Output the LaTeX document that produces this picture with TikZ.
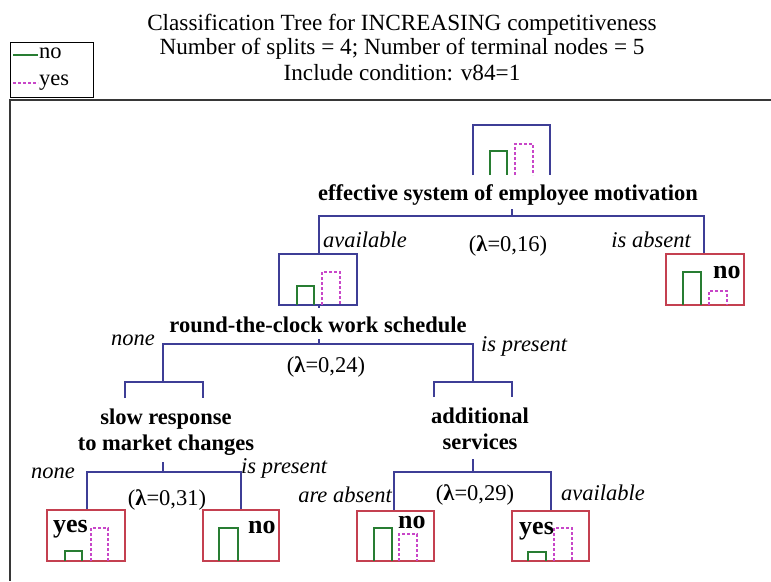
\documentclass[tikz,border=0pt]{standalone}
\usepackage{fontspec}
\setmainfont{Liberation Serif}
\definecolor{nodeblue}{RGB}{62,62,150}
\definecolor{termred}{RGB}{196,64,80}
\definecolor{bargreen}{RGB}{40,125,50}
\definecolor{barpink}{RGB}{200,70,200}
\definecolor{framegray}{RGB}{55,55,55}
\begin{document}
\begin{tikzpicture}[x=1pt,y=-1pt,
  nodebox/.style={draw=nodeblue,line width=1.2pt},
  termbox/.style={draw=termred,line width=1.2pt},
  conn/.style={draw=nodeblue,line width=1.2pt},
  gbar/.style={draw=bargreen,line width=1.1pt},
  pbar/.style={draw=barpink,line width=1.1pt,dash pattern=on 3pt off 2pt},
  frameline/.style={draw=framegray,line width=2pt},
  legbox/.style={draw=black,line width=1pt},
  splitlab/.style={font=\fontsize{22.5}{26}\selectfont\bfseries,align=center,inner sep=0pt},
  branchlab/.style={font=\fontsize{22.5}{26}\selectfont\itshape,inner sep=0pt},
  lamlab/.style={font=\fontsize{22.5}{26}\selectfont,inner sep=0pt},
  termlab/.style={font=\fontsize{26}{28}\selectfont\bfseries,inner sep=0pt},
  titlelab/.style={font=\fontsize{23.2}{26}\selectfont,inner sep=0pt},
  leglab/.style={font=\fontsize{22.5}{24}\selectfont,inner sep=0pt}]
\useasboundingbox (0,0) rectangle (771,581);

% title
\node[titlelab,anchor=base] (title1) at (402,30) {Classification Tree for INCREASING competitiveness};
\node[titlelab,anchor=base] (title2) at (402,54) {Number of splits = 4; Number of terminal nodes = 5};
\node[titlelab,anchor=base] (title3) at (402,80) {Include condition: v84=1};

% legend
\draw[legbox] (10,42) rectangle (93,97);
\coordinate (lg1) at (13,55); \coordinate (lg2) at (38,55);
\coordinate (lp1) at (13,83); \coordinate (lp2) at (38,83);
\draw[gbar] (lg1) -- (lg2);
\draw[pbar] (lp1) -- (lp2);
\node[leglab,anchor=base west] (legno) at (39,58) {no};
\node[leglab,anchor=base west] (legyes) at (39,85) {yes};

% frame
\draw[frameline] (771,100) -- (10,100) -- (10,581);

% root node
\draw[nodebox] (473,175) |- (550,125) -- (550,175);
\draw[gbar] (490,175) |- (507,151) -- (507,175);
\draw[pbar] (515,175) |- (533,144) -- (533,175);
\node[splitlab,anchor=base] (rootlab) at (508,200) {effective system of employee motivation};
\coordinate (tick1) at (512,209);
\coordinate (s1) at (512,216);
\coordinate (n2) at (319,254);
\coordinate (t1) at (704,254);
\draw[conn] (tick1) -- (s1);
\draw[conn] (n2) |- (s1) -| (t1);
\node[branchlab,anchor=base west] (b1l) at (323,247) {available};
\node[branchlab,anchor=base east] (b1r) at (691,247) {is absent};
\node[lamlab,anchor=base] (lam1) at (508,251.5) {(\textbf{λ}=0,16)};

% node 2
\draw[nodebox] (279,254) rectangle (357,305);
\draw[gbar] (297,305) |- (314,286) -- (314,305);
\draw[pbar] (322,305) |- (340,272) -- (340,305);
\draw[conn] (319,305) -- (319,308);
\node[splitlab,anchor=base] (n2lab) at (318,332) {round-the-clock work schedule};
\coordinate (tick2) at (319,339);
\coordinate (s2) at (319,344);
\coordinate (n3) at (163,382);
\coordinate (n4) at (473,382);
\draw[conn] (tick2) -- (s2);
\draw[conn] (n3) |- (s2) -| (n4);
\node[branchlab,anchor=base east] (b2l) at (155,345) {none};
\node[branchlab,anchor=base west] (b2r) at (481,351) {is present};
\node[lamlab,anchor=base] (lam2) at (326,372.5) {(\textbf{λ}=0,24)};

% terminal 1
\draw[termbox] (666,254) rectangle (744,305);
\draw[gbar] (683,305) |- (701,272) -- (701,305);
\draw[pbar] (709,305) |- (727,291) -- (727,305);
\node[termlab,anchor=base west] (t1lab) at (713,278) {no};

% node 3
\draw[nodebox] (125,398) |- (203,382) -- (203,398);
\node[splitlab,anchor=center] (n3lab) at (166,432) {slow response\\to market changes};
\coordinate (tick3) at (163,462);
\coordinate (s3) at (163,472);
\coordinate (t2) at (87,510);
\coordinate (t3) at (241,510);
\draw[conn] (tick3) -- (s3);
\draw[conn] (t2) |- (s3) -| (t3);
\node[branchlab,anchor=base east] (b3l) at (75,478) {none};
\node[branchlab,anchor=base west] (b3r) at (241,473) {is present};
\node[lamlab,anchor=base] (lam3) at (167,505.5) {(\textbf{λ}=0,31)};

% node 4
\draw[nodebox] (434,397) |- (512,382) -- (512,397);
\node[splitlab,anchor=center] (n4lab) at (480,429) {additional\\services};
\coordinate (tick4) at (473,459);
\coordinate (s4) at (473,472);
\coordinate (t4) at (394,511);
\coordinate (t5) at (551,511);
\draw[conn] (tick4) -- (s4);
\draw[conn] (t4) |- (s4) -| (t5);
\node[branchlab,anchor=base east] (b4l) at (392,502) {are absent};
\node[branchlab,anchor=base west] (b4r) at (561,500) {available};
\node[lamlab,anchor=base] (lam4) at (475,500.5) {(\textbf{λ}=0,29)};

% terminal 2
\draw[termbox] (47,510) rectangle (125,561);
\draw[gbar] (65,561) |- (82,551) -- (82,561);
\draw[pbar] (91,561) |- (108,528) -- (108,561);
\node[termlab,anchor=base west] (t2lab) at (53,532) {yes};

% terminal 3
\draw[termbox] (203,510) rectangle (279,561);
\draw[gbar] (219,561) |- (238,528) -- (238,561);
\node[termlab,anchor=base west] (t3lab) at (248,533) {no};

% terminal 4
\draw[termbox] (357,511) rectangle (434,561);
\draw[gbar] (374,561) |- (392,528) -- (392,561);
\draw[pbar] (399,561) |- (417,534) -- (417,561);
\node[termlab,anchor=base west] (t4lab) at (398,528) {no};

% terminal 5
\draw[termbox] (512,511) rectangle (589,561);
\draw[gbar] (528,561) |- (546,552) -- (546,561);
\draw[pbar] (554,561) |- (572,528) -- (572,561);
\node[termlab,anchor=base west] (t5lab) at (519,534) {yes};
\end{tikzpicture}
\end{document}
